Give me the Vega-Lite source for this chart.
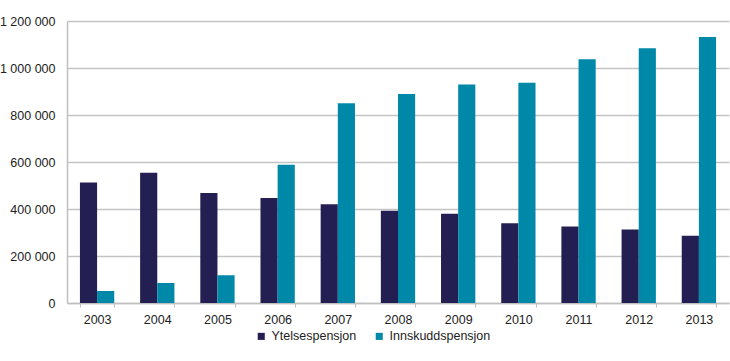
{
  "$schema": "https://vega.github.io/schema/vega-lite/v6.json",
  "width": 662,
  "height": 282,
  "autosize": {"type": "none"},
  "padding": {"left": 67, "top": 21, "right": 1, "bottom": 58},
  "background": "white",
  "data": {
    "values": [
      {"year": "2003", "type": "Ytelsespensjon", "value": 513000},
      {"year": "2003", "type": "Innskuddspensjon", "value": 51000},
      {"year": "2004", "type": "Ytelsespensjon", "value": 554000},
      {"year": "2004", "type": "Innskuddspensjon", "value": 85000},
      {"year": "2005", "type": "Ytelsespensjon", "value": 468000},
      {"year": "2005", "type": "Innskuddspensjon", "value": 118000},
      {"year": "2006", "type": "Ytelsespensjon", "value": 447000},
      {"year": "2006", "type": "Innskuddspensjon", "value": 588000},
      {"year": "2007", "type": "Ytelsespensjon", "value": 420000},
      {"year": "2007", "type": "Innskuddspensjon", "value": 850000},
      {"year": "2008", "type": "Ytelsespensjon", "value": 393000},
      {"year": "2008", "type": "Innskuddspensjon", "value": 889000},
      {"year": "2009", "type": "Ytelsespensjon", "value": 380000},
      {"year": "2009", "type": "Innskuddspensjon", "value": 930000},
      {"year": "2010", "type": "Ytelsespensjon", "value": 339000},
      {"year": "2010", "type": "Innskuddspensjon", "value": 937000},
      {"year": "2011", "type": "Ytelsespensjon", "value": 326000},
      {"year": "2011", "type": "Innskuddspensjon", "value": 1037000},
      {"year": "2012", "type": "Ytelsespensjon", "value": 313000},
      {"year": "2012", "type": "Innskuddspensjon", "value": 1084000},
      {"year": "2013", "type": "Ytelsespensjon", "value": 286000},
      {"year": "2013", "type": "Innskuddspensjon", "value": 1132000}
    ]
  },
  "mark": {"type": "bar"},
  "encoding": {
    "x": {
      "field": "year", "type": "nominal",
      "scale": {"paddingInner": 0.43, "paddingOuter": 0.215},
      "axis": {
        "title": null, "labelAngle": 0, "labelFont": "Liberation Sans", "labelFontSize": 12.5,
        "labelColor": "#222222", "domainColor": "#bfbfbf", "domainWidth": 1.5,
        "tickColor": "#bfbfbf", "tickSize": 4, "tickBand": "extent", "labelPadding": 6
      }
    },
    "xOffset": {"field": "type", "type": "nominal", "sort": ["Ytelsespensjon", "Innskuddspensjon"], "scale": {"paddingInner": 0}},
    "y": {
      "field": "value", "type": "quantitative",
      "scale": {"domain": [0, 1200000], "nice": false},
      "axis": {
        "title": null, "values": [0, 200000, 400000, 600000, 800000, 1000000, 1200000],
        "labelExpr": "replace(format(datum.value, ','), /,/g, ' ')",
        "labelFont": "Liberation Sans", "labelFontSize": 12.5, "labelColor": "#222222",
        "ticks": false, "labelPadding": 12,
        "domainColor": "#bfbfbf", "domainWidth": 1.5,
        "gridColor": "#c4c4c4", "gridWidth": 1.5
      }
    },
    "color": {
      "field": "type", "type": "nominal",
      "sort": ["Ytelsespensjon", "Innskuddspensjon"],
      "scale": {"domain": ["Ytelsespensjon", "Innskuddspensjon"], "range": ["#241f53", "#0088a8"]},
      "legend": {
        "title": null, "orient": "none", "direction": "horizontal",
        "legendX": 188, "legendY": 309,
        "symbolType": "square", "symbolSize": 50, "symbolStrokeWidth": 0,
        "labelFont": "Liberation Sans", "labelFontSize": 12.5, "labelColor": "#222222",
        "columnPadding": 16, "labelOffset": 4
      }
    }
  },
  "config": {"view": {"stroke": null}}
}
